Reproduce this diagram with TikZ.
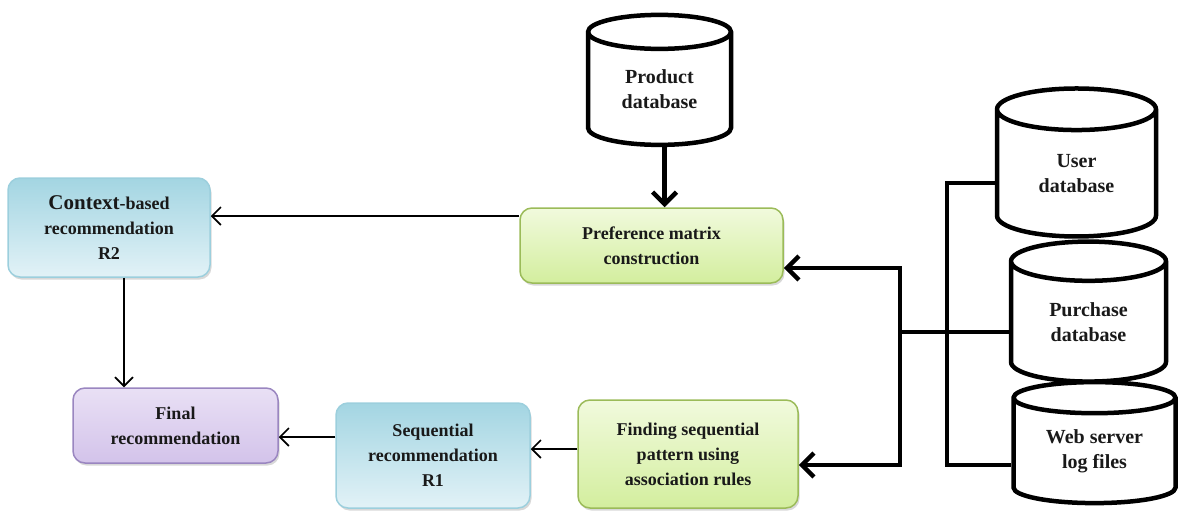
\documentclass[tikz,border=0pt]{standalone}
\usepackage{fontspec}
\setmainfont{Liberation Serif}
\usetikzlibrary{shapes.geometric,arrows.meta,shadows}
\definecolor{grnline}{HTML}{9BBB59}
\definecolor{grnlight}{HTML}{F1FADD}
\definecolor{grndark}{HTML}{D3EE9E}
\definecolor{blueline}{HTML}{9CCFDD}
\definecolor{bluelight}{HTML}{E2F2F7}
\definecolor{bluedark}{HTML}{A3D5E2}
\definecolor{purpline}{HTML}{9A86C0}
\definecolor{purplight}{HTML}{E9E0F5}
\definecolor{purpdark}{HTML}{D3C3EA}
\newcommand{\boxfont}{\bfseries\fontsize{18}{25}\selectfont}
\newcommand{\dbfont}{\bfseries\fontsize{20}{25}\selectfont}
\tikzset{
	box/.style={rectangle, rounded corners=12pt, line width=1.5pt, align=center, font=\boxfont, text=black!90, inner sep=0pt, drop shadow={shadow xshift=1.5pt, shadow yshift=-2.5pt, fill=black!30}},
	greenbox/.style={box, draw=grnline, top color=grnlight, bottom color=grndark},
	bluebox/.style={box, draw=blueline, top color=bluedark, bottom color=bluelight},
	purplebox/.style={box, draw=purpline, top color=purplight, bottom color=purpdark},
	dbase/.style={cylinder, shape border rotate=90, draw=black, line width=4.5pt, fill=white, align=center, font=\dbfont, text=black!90, inner sep=0pt},
	thinarrow/.style={line width=1.6pt, -{Straight Barb[length=9pt,width=18pt]}},
	bigarrow/.style={line width=4.5pt, -{Straight Barb[length=12pt,width=24pt]}},
	link/.style={line width=4.5pt}
}
\begin{document}
\begin{tikzpicture}[x=1pt,y=-1pt]
	\useasboundingbox (0,0) rectangle (1184,512);
	\node[dbase, minimum width=143pt, minimum height=130pt, aspect=0.45] (prod) at (659.5,89.5) {Product\\database};
	\node[dbase, minimum width=159pt, minimum height=148pt, aspect=0.55] (user) at (1076.5,174) {User\\database};
	\node[dbase, minimum width=155pt, minimum height=140pt, aspect=0.5] (purch) at (1088.5,322.5) {Purchase\\database};
	\node[dbase, minimum width=162pt, minimum height=121pt, aspect=0.32] (web) at (1094.5,451.5) {Web server\\log files};
	\node[greenbox, minimum width=263pt, minimum height=75pt] (pref) at (651.5,245.5) {Preference matrix\\construction};
	\node[bluebox, minimum width=202pt, minimum height=99pt] (ctx) at (109,227.5) {{\fontsize{21}{25}\selectfont Context}-based\\recommendation\\R2};
	\node[purplebox, minimum width=205pt, minimum height=75pt] (final) at (175.5,425.5) {Final\\recommendation};
	\node[bluebox, minimum width=194pt, minimum height=105pt] (seq) at (433,455.5) {Sequential\\recommendation\\R1};
	\node[greenbox, minimum width=220pt, minimum height=108pt] (find) at (688,454) {Finding sequential\\pattern using\\association rules};
	\coordinate (busU) at (947,183);
	\coordinate (busW) at (947,465);
	\coordinate (split) at (900,332);
	\draw[bigarrow] ([xshift=5pt]prod.south) -- ([xshift=5pt]prod.south |- pref.north);
	\draw[thinarrow] ([yshift=29.5pt]pref.west) -- ([yshift=29.5pt]pref.west -| ctx.east);
	\draw[thinarrow] ([xshift=15pt]ctx.south) -- ([xshift=15pt]ctx.south |- final.north);
	\draw[thinarrow] ([yshift=18.5pt]seq.west) -- ([yshift=18.5pt]seq.west -| final.east);
	\draw[thinarrow] ([yshift=5pt]find.west) -- ([yshift=5pt]find.west -| seq.east);
	\draw[link] (busU -| user.west) -- (busU) -- (busW) -- (busW -| web.west);
	\draw[link] (split -| purch.west) -- (split);
	\draw[bigarrow] (split) |- ([yshift=-22.5pt]pref.east);
	\draw[bigarrow] (split) |- ([yshift=-11pt]find.east);
\end{tikzpicture}
\end{document}
